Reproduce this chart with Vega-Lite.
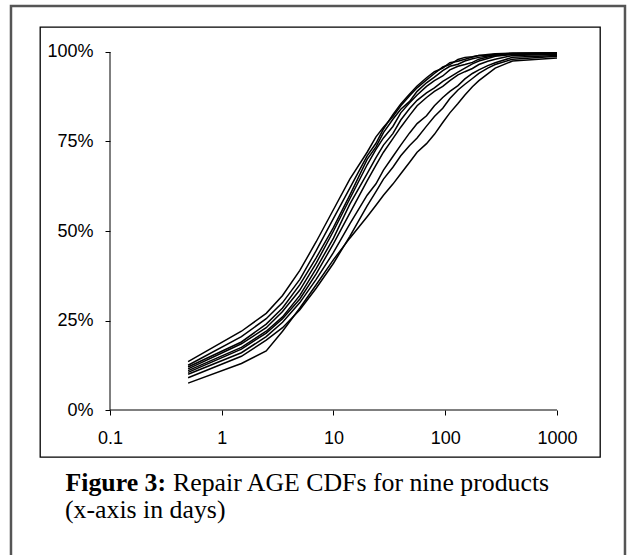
{
  "$schema": "https://vega.github.io/schema/vega-lite/v6.json",
  "width": 560,
  "height": 430,
  "autosize": {"type": "none"},
  "padding": {"left": 40, "top": 27, "right": 33, "bottom": 98},
  "background": "white",
  "config": {"view": {"stroke": "#000", "strokeWidth": 1.3}, "font": "Liberation Sans"},
  "title": {"text": "(x-axis in days)", "orient": "bottom", "anchor": "start", "frame": "group", "font": "Liberation Serif", "fontSize": 25.8, "fontWeight": "normal", "color": "#000", "baseline": "alphabetic", "dx": 25, "offset": -63},
  "datasets": {
    "cdf": [
      {"p":"A","d":0.5,"v":13.5},{"p":"A","d":1.5,"v":22},{"p":"A","d":2.5,"v":27},{"p":"A","d":3.5,"v":32},{"p":"A","d":5,"v":39},{"p":"A","d":7,"v":47},{"p":"A","d":10,"v":56},{"p":"A","d":14,"v":64.5},{"p":"A","d":20,"v":72},{"p":"A","d":24,"v":76.3},{"p":"A","d":28,"v":79},{"p":"A","d":34,"v":82},{"p":"A","d":40,"v":85},{"p":"A","d":48,"v":87.8},{"p":"A","d":56,"v":90},{"p":"A","d":68,"v":92.2},{"p":"A","d":80,"v":94},{"p":"A","d":95,"v":95.8},{"p":"A","d":110,"v":96.5},{"p":"A","d":130,"v":97.9},{"p":"A","d":150,"v":98.5},{"p":"A","d":175,"v":98.7},{"p":"A","d":200,"v":99},{"p":"A","d":240,"v":99.3},{"p":"A","d":280,"v":99.5},{"p":"A","d":400,"v":99.7},{"p":"A","d":1000,"v":99.8},
      {"p":"B","d":0.5,"v":12.5},{"p":"B","d":1.5,"v":20.5},{"p":"B","d":2.5,"v":25.5},{"p":"B","d":3.5,"v":30},{"p":"B","d":5,"v":36.5},{"p":"B","d":7,"v":44.5},{"p":"B","d":10,"v":53.5},{"p":"B","d":14,"v":62},{"p":"B","d":20,"v":71},{"p":"B","d":24,"v":74.5},{"p":"B","d":28,"v":78.5},{"p":"B","d":34,"v":82.5},{"p":"B","d":40,"v":85.5},{"p":"B","d":48,"v":88.3},{"p":"B","d":56,"v":90.5},{"p":"B","d":68,"v":92.8},{"p":"B","d":80,"v":94.5},{"p":"B","d":95,"v":95.5},{"p":"B","d":110,"v":97},{"p":"B","d":130,"v":97.4},{"p":"B","d":150,"v":98},{"p":"B","d":175,"v":98.6},{"p":"B","d":200,"v":99},{"p":"B","d":240,"v":99.1},{"p":"B","d":280,"v":99.4},{"p":"B","d":400,"v":99.6},{"p":"B","d":1000,"v":99.7},
      {"p":"C","d":0.5,"v":12},{"p":"C","d":1.5,"v":19},{"p":"C","d":2.5,"v":24},{"p":"C","d":3.5,"v":28.5},{"p":"C","d":5,"v":35},{"p":"C","d":7,"v":42.5},{"p":"C","d":10,"v":51},{"p":"C","d":14,"v":60},{"p":"C","d":20,"v":70},{"p":"C","d":24,"v":73.5},{"p":"C","d":28,"v":77.5},{"p":"C","d":34,"v":81.2},{"p":"C","d":40,"v":84},{"p":"C","d":48,"v":86.2},{"p":"C","d":56,"v":89},{"p":"C","d":68,"v":91.4},{"p":"C","d":80,"v":93},{"p":"C","d":95,"v":94.8},{"p":"C","d":110,"v":96},{"p":"C","d":130,"v":96.6},{"p":"C","d":150,"v":97.5},{"p":"C","d":175,"v":98.1},{"p":"C","d":200,"v":98.5},{"p":"C","d":240,"v":98.9},{"p":"C","d":280,"v":99.2},{"p":"C","d":400,"v":99.5},{"p":"C","d":1000,"v":99.6},
      {"p":"D","d":0.5,"v":11.5},{"p":"D","d":1.5,"v":18.5},{"p":"D","d":2.5,"v":23},{"p":"D","d":3.5,"v":27.5},{"p":"D","d":5,"v":33.5},{"p":"D","d":7,"v":41},{"p":"D","d":10,"v":50},{"p":"D","d":14,"v":59},{"p":"D","d":20,"v":68.5},{"p":"D","d":24,"v":72.8},{"p":"D","d":28,"v":76},{"p":"D","d":34,"v":79.2},{"p":"D","d":40,"v":83},{"p":"D","d":48,"v":85.8},{"p":"D","d":56,"v":88},{"p":"D","d":68,"v":90.4},{"p":"D","d":80,"v":92},{"p":"D","d":95,"v":93.3},{"p":"D","d":110,"v":95},{"p":"D","d":130,"v":96},{"p":"D","d":150,"v":96.5},{"p":"D","d":175,"v":97.1},{"p":"D","d":200,"v":98},{"p":"D","d":240,"v":98.6},{"p":"D","d":280,"v":99},{"p":"D","d":400,"v":99.5},{"p":"D","d":1000,"v":99.6},
      {"p":"E","d":0.5,"v":11},{"p":"E","d":1.5,"v":17.5},{"p":"E","d":2.5,"v":22},{"p":"E","d":3.5,"v":26},{"p":"E","d":5,"v":32},{"p":"E","d":7,"v":39.5},{"p":"E","d":10,"v":48},{"p":"E","d":14,"v":57.5},{"p":"E","d":20,"v":66},{"p":"E","d":24,"v":70.5},{"p":"E","d":28,"v":74},{"p":"E","d":34,"v":77.2},{"p":"E","d":40,"v":81},{"p":"E","d":48,"v":84.2},{"p":"E","d":56,"v":86.5},{"p":"E","d":68,"v":88.6},{"p":"E","d":80,"v":90},{"p":"E","d":95,"v":91.8},{"p":"E","d":110,"v":93},{"p":"E","d":130,"v":94.4},{"p":"E","d":150,"v":95.5},{"p":"E","d":175,"v":96.7},{"p":"E","d":200,"v":97.5},{"p":"E","d":240,"v":98.2},{"p":"E","d":280,"v":98.8},{"p":"E","d":400,"v":99.3},{"p":"E","d":1000,"v":99.5},
      {"p":"F","d":0.5,"v":10.5},{"p":"F","d":1.5,"v":17},{"p":"F","d":2.5,"v":21.5},{"p":"F","d":3.5,"v":25.5},{"p":"F","d":5,"v":31},{"p":"F","d":7,"v":38},{"p":"F","d":10,"v":46.5},{"p":"F","d":14,"v":55},{"p":"F","d":20,"v":64},{"p":"F","d":24,"v":68.4},{"p":"F","d":28,"v":72},{"p":"F","d":34,"v":75.8},{"p":"F","d":40,"v":79},{"p":"F","d":48,"v":82.3},{"p":"F","d":56,"v":85},{"p":"F","d":68,"v":87.3},{"p":"F","d":80,"v":89},{"p":"F","d":95,"v":90.4},{"p":"F","d":110,"v":92},{"p":"F","d":130,"v":93.6},{"p":"F","d":150,"v":94.5},{"p":"F","d":175,"v":95.4},{"p":"F","d":200,"v":96.5},{"p":"F","d":240,"v":97.4},{"p":"F","d":280,"v":98},{"p":"F","d":400,"v":99},{"p":"F","d":1000,"v":99.3},
      {"p":"G","d":0.5,"v":10},{"p":"G","d":1.5,"v":16},{"p":"G","d":2.5,"v":20.5},{"p":"G","d":3.5,"v":24.5},{"p":"G","d":5,"v":30},{"p":"G","d":7,"v":36.5},{"p":"G","d":10,"v":44},{"p":"G","d":14,"v":52},{"p":"G","d":20,"v":60},{"p":"G","d":24,"v":63.2},{"p":"G","d":28,"v":67},{"p":"G","d":34,"v":70.8},{"p":"G","d":40,"v":74},{"p":"G","d":48,"v":77.4},{"p":"G","d":56,"v":80},{"p":"G","d":68,"v":82.2},{"p":"G","d":80,"v":85},{"p":"G","d":95,"v":87.3},{"p":"G","d":110,"v":89},{"p":"G","d":130,"v":90.6},{"p":"G","d":150,"v":92.5},{"p":"G","d":175,"v":94},{"p":"G","d":200,"v":95},{"p":"G","d":240,"v":96.2},{"p":"G","d":280,"v":97},{"p":"G","d":400,"v":98.5},{"p":"G","d":1000,"v":99},
      {"p":"H","d":0.5,"v":9},{"p":"H","d":1.5,"v":15},{"p":"H","d":2.5,"v":19.5},{"p":"H","d":3.5,"v":23},{"p":"H","d":5,"v":28},{"p":"H","d":7,"v":34},{"p":"H","d":10,"v":41},{"p":"H","d":14,"v":48.5},{"p":"H","d":20,"v":57},{"p":"H","d":24,"v":61},{"p":"H","d":28,"v":64.5},{"p":"H","d":34,"v":67.8},{"p":"H","d":40,"v":71},{"p":"H","d":48,"v":73.9},{"p":"H","d":56,"v":76},{"p":"H","d":68,"v":79.3},{"p":"H","d":80,"v":82},{"p":"H","d":95,"v":84.3},{"p":"H","d":110,"v":87},{"p":"H","d":130,"v":89.4},{"p":"H","d":150,"v":91},{"p":"H","d":175,"v":92.6},{"p":"H","d":200,"v":94},{"p":"H","d":240,"v":95.5},{"p":"H","d":280,"v":96.5},{"p":"H","d":400,"v":98},{"p":"H","d":1000,"v":98.8},
      {"p":"I","d":0.5,"v":7.5},{"p":"I","d":1.5,"v":13},{"p":"I","d":2.5,"v":16.5},{"p":"I","d":3.5,"v":22},{"p":"I","d":5,"v":28.5},{"p":"I","d":7,"v":35},{"p":"I","d":10,"v":42},{"p":"I","d":14,"v":48},{"p":"I","d":20,"v":54},{"p":"I","d":24,"v":57.2},{"p":"I","d":28,"v":60},{"p":"I","d":34,"v":63.1},{"p":"I","d":40,"v":66},{"p":"I","d":48,"v":69.2},{"p":"I","d":56,"v":72},{"p":"I","d":68,"v":74.4},{"p":"I","d":80,"v":77},{"p":"I","d":95,"v":80.3},{"p":"I","d":110,"v":83},{"p":"I","d":130,"v":85.6},{"p":"I","d":150,"v":88},{"p":"I","d":175,"v":90.3},{"p":"I","d":200,"v":92},{"p":"I","d":240,"v":93.9},{"p":"I","d":280,"v":95.5},{"p":"I","d":400,"v":97.5},{"p":"I","d":1000,"v":98.3}
    ]
  },
  "layer": [
    {
      "data": {"values": [{}]},
      "mark": {"type": "rect", "filled": false, "stroke": "#555555", "strokeWidth": 2.5, "clip": false},
      "encoding": {
        "x": {"datum": 0.013, "type": "quantitative"},
        "x2": {"datum": 4060},
        "y": {"datum": 112.85, "type": "quantitative"},
        "y2": {"datum": -47.5}
      }
    },
    {
      "data": {"name": "cdf"},
      "mark": {"type": "line", "color": "#000", "strokeWidth": 1.5},
      "encoding": {
        "x": {
          "field": "d", "type": "quantitative",
          "scale": {"type": "log", "domain": [0.023636, 2426.2], "nice": false, "zero": false},
          "axis": {
            "orient": "bottom", "offset": -47, "values": [0.1, 1, 10, 100, 1000], "format": "~g",
            "grid": false, "domain": false, "ticks": true, "tickSize": 5, "tickColor": "#000", "tickWidth": 1,
            "labelFont": "Liberation Sans", "labelFontSize": 18, "labelColor": "#000", "labelPadding": 14,
            "labelFlush": false, "labelOverlap": false,
            "title": "Figure 3:", "titleFont": "Liberation Serif", "titleFontSize": 25.8, "titleFontWeight": "bold",
            "titleColor": "#000", "titleAlign": "left", "titleBaseline": "alphabetic", "titleAngle": 0,
            "titleX": 25, "titleY": 80
          }
        },
        "y": {
          "field": "v", "type": "quantitative",
          "scale": {"domain": [-13.128, 106.983], "nice": false, "zero": false},
          "axis": {
            "orient": "left", "offset": -70, "values": [0, 25, 50, 75, 100], "labelExpr": "datum.value + '%'",
            "grid": false, "domain": false, "ticks": true, "tickSize": 5, "tickColor": "#000", "tickWidth": 1,
            "labelFont": "Liberation Sans", "labelFontSize": 18, "labelColor": "#000", "labelPadding": 12,
            "labelOverlap": false,
            "title": "Repair AGE CDFs for nine products", "titleFont": "Liberation Serif", "titleFontSize": 25.8,
            "titleFontWeight": "normal", "titleColor": "#000", "titleAngle": 0, "titleAlign": "left",
            "titleBaseline": "alphabetic", "titleX": 62.5, "titleY": 463
          }
        },
        "detail": {"field": "p", "type": "nominal"}
      }
    },
    {
      "data": {"values": [{}]},
      "mark": {"type": "rule", "color": "#000", "strokeWidth": 1},
      "encoding": {"x": {"datum": 0.1, "type": "quantitative"}, "y": {"datum": 0, "type": "quantitative"}, "y2": {"datum": 100}}
    },
    {
      "data": {"values": [{}]},
      "mark": {"type": "rule", "color": "#000", "strokeWidth": 1},
      "encoding": {"x": {"datum": 0.1, "type": "quantitative"}, "x2": {"datum": 1000}, "y": {"datum": 0, "type": "quantitative"}}
    }
  ]
}
